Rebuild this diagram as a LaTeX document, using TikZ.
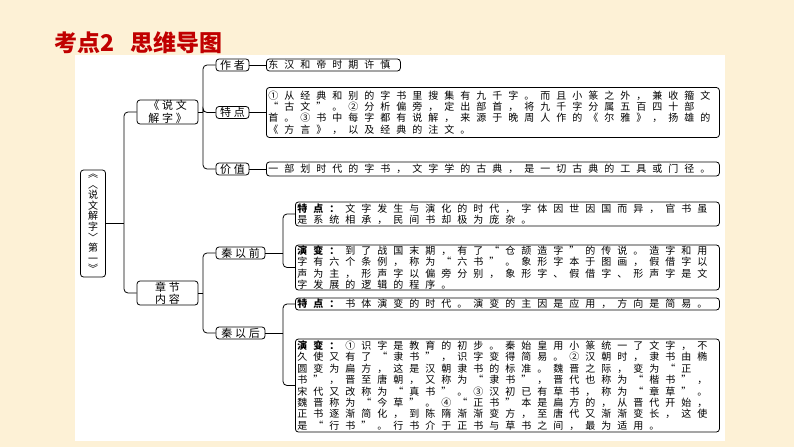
\documentclass[tikz,border=0pt]{standalone}
\usepackage{fontspec}
\setmainfont{Noto Sans CJK SC}
\newfontfamily\song[LetterSpace=60]{Noto Sans CJK SC}
\newfontfamily\hei[LetterSpace=25]{Noto Sans CJK SC}
\usetikzlibrary{positioning}
\definecolor{bgcream}{RGB}{253,241,214}
\definecolor{titlered}{RGB}{192,0,0}

\begin{document}
\begin{tikzpicture}[x=1pt, y=-1pt,
    box/.style={draw, rounded corners=3pt, line width=0.8pt, inner sep=0pt},
    lab/.style={box, font=\hei\fontsize{11}{12.5}\selectfont, align=center},
    txt/.style={box, anchor=west, font=\song\fontsize{10}{11.4}\selectfont, align=left, inner xsep=2pt},
    link/.style={line width=0.8pt, rounded corners=4pt}]

    % 背景
    \fill[bgcream] (0,0) rectangle (794,447);
    \fill[white] (74.5,55) rectangle (725,441);

    % 标题
    \node[anchor=west, inner sep=0pt, text=titlered, font=\bfseries\fontsize{23}{25}\selectfont] (title) at (54,42.5) {考点2\hspace{16pt}思维导图};

    % 根节点
    \node[box, font=\hei\fontsize{10}{10.6}\selectfont, align=center, minimum width=25pt, minimum height=107pt] (root) at (93,223.5)
        {︽\\︿\\说\\文\\解\\字\\﹀\\第\\一\\︾};

    % 第一层
    \node[lab, minimum width=61pt, minimum height=24pt] (sw) at (167.5,112) {《说文\\解字》};
    \node[lab, minimum width=61pt, minimum height=24pt] (zj) at (167.5,293) {章节\\内容};

    % 《说文解字》分支
    \node[lab, minimum width=33pt, minimum height=12pt] (zz) at (232.5,65) {作者};
    \node[lab, minimum width=33pt, minimum height=12pt] (td) at (232.5,112.5) {特点};
    \node[lab, minimum width=33pt, minimum height=12pt] (jz) at (232.5,169) {价值};

    \node[txt, text width=130pt, minimum height=12pt] (zzT) at (266,65) {东汉和帝时期许慎};
    \node[txt, text width=449pt, minimum height=50pt] (tdT) at (266,112.5)
        {①从经典和别的字书里搜集有九千字。而且小篆之外，兼收籀文\\
         “古文”。②分析偏旁，定出部首，将九千字分属五百四十部\\
         首。③书中每字都有说解，来源于晚周人作的《尔雅》，扬雄的\\
         《方言》，以及经典的注文。};
    \node[txt, text width=449pt, minimum height=14pt] (jzT) at (266,169) {一部划时代的字书，文字学的古典，是一切古典的工具或门径。};

    % 章节内容分支
    \node[lab, minimum width=49pt, minimum height=12pt] (qq) at (240.5,253) {秦以前};
    \node[lab, minimum width=49pt, minimum height=12pt] (qh) at (240.5,333) {秦以后};

    \node[txt, text width=420pt, minimum height=24pt] (qqA) at (295,214)
        {\textbf{特点：}文字发生与演化的时代，字体因世因国而异，官书虽\\
         是系统相承，民间书却极为庞杂。};
    \node[txt, text width=420pt, minimum height=45pt] (qqB) at (295,267.5)
        {\textbf{演变：}到了战国末期，有了“仓颉造字”的传说。造字和用\\
         字有六个条例，称为“六书”。象形字本于图画，假借字以\\
         声为主，形声字以偏旁分别，象形字、假借字、形声字是文\\
         字发展的逻辑的程序。};
    \node[txt, text width=420pt, minimum height=12pt] (qhA) at (295,304)
        {\textbf{特点：}书体演变的时代。演变的主因是应用，方向是简易。};
    \node[txt, text width=420pt, minimum height=93pt] (qhB) at (295,385.5)
        {\textbf{演变：}①识字是教育的初步。秦始皇用小篆统一了文字，不\\
         久使又有了“隶书”，识字变得简易。②汉朝时，隶书由椭\\
         圆变为扁方，这是汉朝隶书的标准。魏晋之际，变为“正\\
         书”，晋至唐朝，又称为“隶书”，晋代也称为“楷书”，\\
         宋代又改称为“真书”。③汉初已有草书，称为“章草”。\\
         魏晋称为“今草”。④“正书”本是扁方的，从晋代开始，\\
         正书逐渐简化，到陈隋渐渐变方，至唐代又渐渐变长，这使\\
         是“行书”。行书介于正书与草书之间，最为适用。};

    % 连线
    \coordinate (j1) at (124,223.5);
    \coordinate (j2) at (203,112);
    \coordinate (j3) at (203,293);
    \coordinate (j4) at (283,253);
    \coordinate (j5) at (283,333);

    \draw[link] (root) -- (j1);
    \foreach \n in {sw,zj} \draw[link] (j1) |- (\n);
    \draw[link] (sw) -- (j2);
    \foreach \n in {zz,td,jz} \draw[link] (j2) |- (\n);
    \draw[link] (zj) -- (j3);
    \foreach \n in {qq,qh} \draw[link] (j3) |- (\n);
    \draw[link] (qq) -- (j4);
    \foreach \n in {qqA,qqB} \draw[link] (j4) |- (\n);
    \draw[link] (qh) -- (j5);
    \foreach \n in {qhA,qhB} \draw[link] (j5) |- (\n);

    \draw[link] (zz) -- (zzT);
    \draw[link] (td) -- (tdT);
    \draw[link] (jz) -- (jzT);
\end{tikzpicture}
\end{document}
